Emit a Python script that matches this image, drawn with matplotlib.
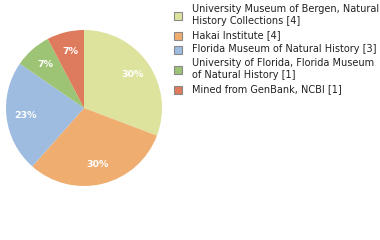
import matplotlib
matplotlib.use("Agg")
import matplotlib.pyplot as plt
from matplotlib.patches import Rectangle
import numpy as np

labels = ["University Museum of Bergen, Natural\nHistory Collections [4]",
          "Hakai Institute [4]",
          "Florida Museum of Natural History [3]",
          "University of Florida, Florida Museum\nof Natural History [1]",
          "Mined from GenBank, NCBI [1]"]
values = [4, 4, 3, 1, 1]
pct_labels = ["30%", "30%", "23%", "7%", "7%"]
colors = ["#dde39c", "#f0ad70", "#9dbce0", "#9dc474", "#de7b5c"]

W, H = 380, 240
fig = plt.figure(figsize=(3.8, 2.4), dpi=100)
R = 78
ax = fig.add_axes([(84 - R) / W, (H - 108 - R) / H, 2 * R / W, 2 * R / H])
wedges, _ = ax.pie(values, colors=colors, startangle=90, counterclock=False,
                   wedgeprops=dict(linewidth=0))
total = sum(values)
ang = 90.0
for v, t in zip(values, pct_labels):
    sweep = 360.0 * v / total
    mid = np.deg2rad(ang - sweep / 2)
    ax.text(0.75 * np.cos(mid), 0.75 * np.sin(mid), t, ha="center", va="center",
            color="white", fontsize=6.8, fontweight="semibold")
    ang -= sweep
ax.set_xlim(-1, 1)
ax.set_ylim(-1, 1)
ax.set_aspect("equal")
ax.axis("off")

# legend drawn manually (pixel layout)
y = 9.3
line_h = 12.0
entry_gap = 14.0
sq = 8.0
for lab, c in zip(labels, colors):
    lines = lab.split("\n")
    ys = [y + i * line_h for i in range(len(lines))]
    for yy, ln in zip(ys, lines):
        fig.text(192 / W, 1 - yy / H, ln, ha="left", va="center", fontsize=7.0,
                 color="#222222")
    yc = np.mean(ys) + 0.5
    fig.patches.append(Rectangle((174 / W, 1 - (yc + sq / 2) / H), sq / W, sq / H,
                                 transform=fig.transFigure, facecolor=c,
                                 edgecolor="#888888", linewidth=0.8))
    y = ys[-1] + entry_gap
fig.savefig("out.png", dpi=100)
